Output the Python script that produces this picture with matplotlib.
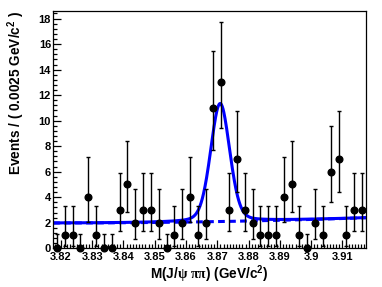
import numpy as np
import matplotlib
matplotlib.use("Agg")
import matplotlib.pyplot as plt
from matplotlib.ticker import MultipleLocator

plt.rcParams["font.family"] = ["Liberation Sans", "DejaVu Sans"]
plt.rcParams["font.weight"] = "bold"
plt.rcParams["mathtext.fontset"] = "custom"
plt.rcParams["mathtext.rm"] = "Liberation Serif"
plt.rcParams["mathtext.bf"] = "Liberation Sans:bold"

# binning: 40 bins of 2.5 MeV
x_lo, x_hi = 3.8175, 3.9175
bin_w = 0.0025
counts = [0, 1, 1, 0, 4, 1, 0, 0, 3, 5,
          2, 3, 3, 2, 0, 1, 2, 4, 1, 2,
          11, 13, 3, 7, 3, 2, 1, 1, 1, 4,
          5, 1, 0, 2, 1, 6, 7, 1, 3, 3]

# asymmetric Poisson errors (lower, upper) per count
pois_lo = {0: 0.0, 1: 0.83, 2: 1.29, 3: 1.63, 4: 1.91, 5: 2.16,
           6: 2.38, 7: 2.58, 11: 3.27, 13: 3.57}
pois_hi = {0: 1.15, 1: 2.30, 2: 2.64, 3: 2.92, 4: 3.16, 5: 3.38,
           6: 3.58, 7: 3.77, 11: 4.43, 13: 4.72}

# fit: pseudo-Voigt peak on a quadratic background
peak_mean = 3.8709
peak_fwhm = 0.0072
peak_eta = 0.2
peak_amp = 9.25
bkg_coef = [1.98, -0.12, 42.2]   # in (m - x_lo)

centers = x_lo + bin_w * (np.arange(len(counts)) + 0.5)
y = np.array(counts, float)
elo = np.array([pois_lo[c] for c in counts])
ehi = np.array([pois_hi[c] for c in counts])

m = np.linspace(x_lo, x_hi, 800)
u = m - x_lo
bkg = bkg_coef[0] + bkg_coef[1] * u + bkg_coef[2] * u * u
hw = peak_fwhm / 2
d = (m - peak_mean) / hw
sig = peak_amp * (peak_eta / (1 + d * d) + (1 - peak_eta) * np.exp(-np.log(2) * d * d))

fig = plt.figure(figsize=(3.82, 2.87), dpi=100)
ax = fig.add_axes([0.139, 0.135, 0.819, 0.827])

ax.plot(m, bkg, color="blue", lw=2.2, ls=(0, (2.2, 1.4)))
ax.plot(m, bkg + sig, color="blue", lw=2.2)
ax.errorbar(centers, y, yerr=[elo, ehi], fmt="o", color="black", ms=4.8,
            elinewidth=1.0, capsize=1.3, capthick=1.0, clip_on=False, zorder=5)

ax.set_xlim(x_lo, x_hi)
ax.set_ylim(0, 18.6)
ax.xaxis.set_major_locator(MultipleLocator(0.01))
ax.xaxis.set_minor_locator(MultipleLocator(0.001))
ax.yaxis.set_major_locator(MultipleLocator(2))
ax.yaxis.set_minor_locator(MultipleLocator(0.4))
ax.xaxis.set_major_formatter(plt.FuncFormatter(lambda v, p: f"{v:.2f}".rstrip("0")))
ax.tick_params(which="both", direction="in", top=False, right=False,
               labelsize=8, width=0.9)
ax.tick_params(axis="x", pad=2.5)
ax.tick_params(axis="y", pad=1.5)
ax.tick_params(which="major", length=6)
ax.tick_params(which="minor", length=3)
for s in ax.spines.values():
    s.set_linewidth(0.9)

ax.set_xlabel(r"M(J/$\mathrm{\psi}$ $\mathrm{\pi\pi}$) (GeV/c$^{\mathbf{2}}$)",
              fontsize=9.8, fontweight="bold", labelpad=1)
ax.set_ylabel(r"Events / ( 0.0025 GeV/c$^{\mathbf{2}}$ )", fontsize=9.8,
              fontweight="bold", loc="top")
ax.yaxis.set_label_coords(-0.085, 1.0)

fig.savefig("out.png", dpi=100)
